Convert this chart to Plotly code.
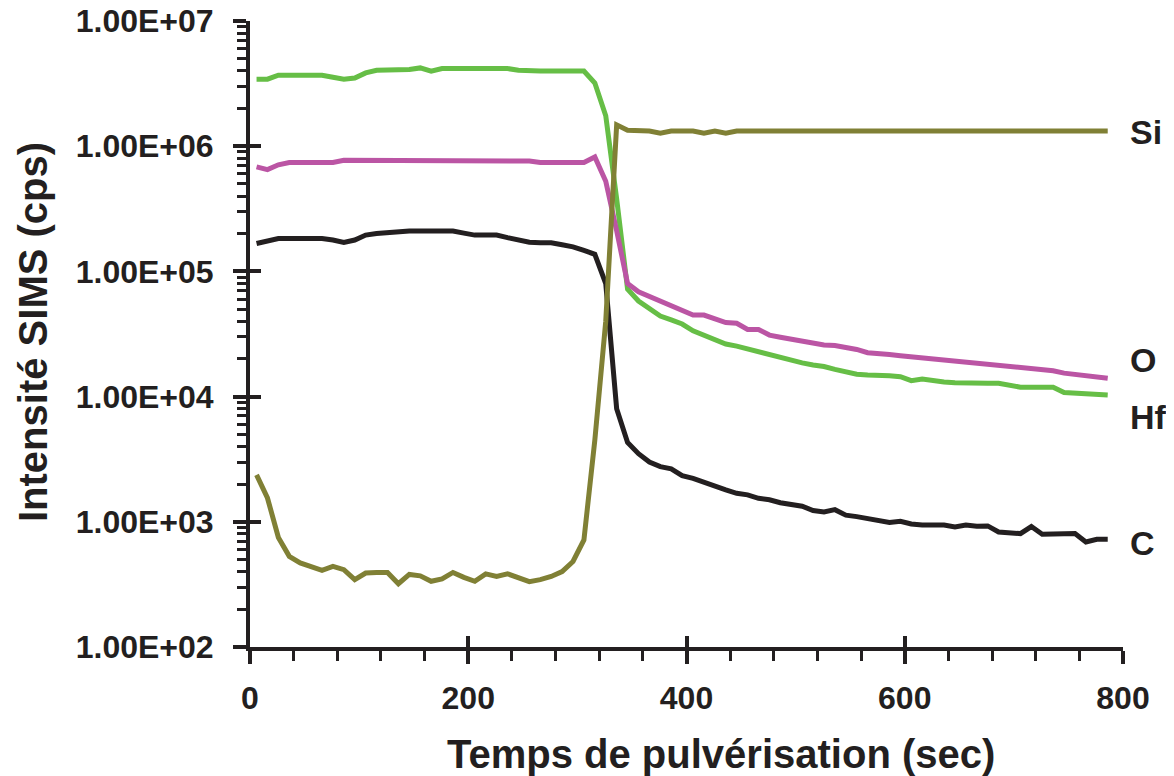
import plotly.graph_objects as go

time_s = [6, 16, 26, 36, 46, 56, 66, 76, 86, 96, 106, 116, 126, 136, 146, 156, 166, 176, 186, 196,
          206, 216, 226, 236, 246, 256, 266, 276, 286, 296, 306, 316, 326, 336, 346, 356, 366, 376, 386, 396,
          406, 416, 426, 436, 446, 456, 466, 476, 486, 496, 506, 516, 526, 536, 546, 556, 566, 576, 586, 596,
          606, 616, 626, 636, 646, 656, 666, 676, 686, 696, 706, 716, 726, 736, 746, 756, 766, 776, 786]

si = [2370, 1550, 750, 530, 470, 435, 410, 440, 415, 345,
      390, 394, 394, 320, 380, 370, 335, 350, 394, 360,
      335, 384, 366, 384, 355, 333, 345, 366, 400, 482,
      716, 4500, 40000, 1480000, 1340000, 1320000, 1320000, 1270000, 1320000, 1320000,
      1320000, 1270000, 1320000, 1270000, 1320000, 1320000, 1320000, 1320000, 1320000, 1320000,
      1320000, 1320000, 1320000, 1320000, 1320000, 1320000, 1320000, 1320000, 1320000, 1320000,
      1320000, 1320000, 1320000, 1320000, 1320000, 1320000, 1320000, 1320000, 1320000, 1320000,
      1320000, 1320000, 1320000, 1320000, 1320000, 1320000, 1320000, 1320000, 1320000]

hf = [3430000, 3430000, 3690000, 3690000, 3690000, 3690000, 3690000, 3550000, 3430000, 3500000,
      3850000, 4040000, 4040000, 4040000, 4100000, 4220000, 3970000, 4170000, 4170000, 4170000,
      4170000, 4170000, 4170000, 4170000, 4050000, 3990000, 3990000, 3990000, 3990000, 3990000,
      3990000, 3200000, 1750000, 380000, 72000, 58000, 50000, 44000, 41000, 38000,
      33500, 31000, 28500, 26300, 25300, 24000, 22600, 21800, 20500, 19300,
      18600, 17900, 17400, 16500, 15600, 15100, 14900, 14900, 14700, 14400,
      13400, 13800, 13300, 13100, 12900, 12800, 12800, 12800, 12800, 12400,
      11900, 11900, 11900, 11900, 10800, 10700, 10700, 10500, 10300]

o = [684000, 650000, 710000, 741000, 741000, 741000, 741000, 741000, 773000, 773000,
     773000, 773000, 773000, 773000, 773000, 773000, 773000, 773000, 773000, 773000,
     773000, 773000, 773000, 773000, 773000, 760000, 741000, 741000, 741000, 741000,
     741000, 820000, 525000, 211000, 80000, 68700, 63000, 58000, 52000, 48000,
     44800, 44800, 41500, 39000, 38500, 34400, 34400, 31000, 29800, 28800,
     27800, 26600, 25800, 25600, 24800, 23800, 22400, 22300, 21700, 21200,
     20800, 20500, 19800, 19400, 19400, 18900, 18300, 18000, 17900, 17500,
     17100, 16800, 16300, 16100, 15400, 15100, 14800, 14600, 14000]

c = [167000, 175000, 183000, 183000, 183000, 183000, 183000, 178000, 170000, 178000,
     195000, 201000, 205000, 210000, 210000, 210000, 210000, 210000, 210000, 202000,
     195000, 195000, 195000, 186000, 179000, 171000, 169000, 169000, 163000, 157000,
     147000, 137000, 80000, 8000, 4300, 3500, 3000, 2760, 2650, 2340,
     2220, 2060, 1950, 1800, 1690, 1640, 1540, 1500, 1420, 1360,
     1330, 1230, 1200, 1250, 1130, 1100, 1060, 1010, 987, 1010,
     960, 944, 944, 944, 910, 944, 920, 927, 830, 808,
     805, 916, 795, 800, 803, 805, 690, 726, 726]

series = [("Hf", hf, "#66BE46"), ("O", o, "#BB55A4"), ("C", c, "#231F20"), ("Si", si, "#808035")]
label_pos = {"Si": 6.112, "O": 4.292, "Hf": 3.837, "C": 2.832}

y_tickvals = [1e2, 1e3, 1e4, 1e5, 1e6, 1e7]
y_ticktext = ["1.00E+02", "1.00E+03", "1.00E+04", "1.00E+05", "1.00E+06", "1.00E+07"]
x_tickvals = [0, 200, 400, 600, 800]

INK = "#231F20"
FONT = "Liberation Sans"

# page body has an 8px margin, so the figure is sized/offset accordingly
W, H = 1166, 768
ML, MT, MR, MB = 242, 13, 51, 129
PW = W - ML - MR
PH = H - MT - MB

fig = go.Figure()
for name, vals, col in series:
    fig.add_trace(go.Scatter(x=time_s, y=vals, mode="lines", name=name,
                             line=dict(color=col, width=5), showlegend=False))

# dummy trace for overlay axes (inside halves of the crossing major ticks)
fig.add_trace(go.Scatter(x=[None], y=[None], xaxis="x2", yaxis="y2", showlegend=False, hoverinfo="skip"))

for name, vals, col in series:
    fig.add_annotation(x=1 + 5 / PW, y=label_pos[name], xref="paper", yref="y", text=name, showarrow=False,
                       xanchor="left", yanchor="middle",
                       font=dict(family=FONT, size=34, color=INK, weight="bold"))

fig.add_annotation(x=(713 - ML) / PW, y=(MT + PH - 746) / PH, xref="paper", yref="paper",
                   text="Temps de pulvérisation (sec)", showarrow=False, xanchor="center", yanchor="middle",
                   font=dict(family=FONT, size=40, color=INK, weight="bold"))
fig.add_annotation(x=(25 - ML) / PW, y=(MT + PH - 324) / PH, xref="paper", yref="paper",
                   text="Intensité SIMS (cps)", showarrow=False, textangle=-90,
                   xanchor="center", yanchor="middle",
                   font=dict(family=FONT, size=40, color=INK, weight="bold"))

fig.update_layout(
    template="none",
    width=W, height=H,
    margin=dict(l=ML, r=MR, t=MT, b=MB, autoexpand=False),
    paper_bgcolor="white", plot_bgcolor="white",
    font=dict(family=FONT, color=INK),
    xaxis=dict(range=[0, 800], tickvals=x_tickvals, ticks="outside", ticklen=13, tickwidth=4,
               tickcolor=INK, showline=True, linewidth=4, linecolor=INK, showgrid=False, zeroline=False,
               automargin=False, ticklabeloverflow="allow",
               tickfont=dict(family=FONT, size=32, color=INK, weight="bold"), ticklabelstandoff=7,
               minor=dict(ticks="outside", dtick=40, ticklen=10, tickwidth=3, tickcolor=INK, showgrid=False)),
    yaxis=dict(type="log", range=[2, 7], tickvals=y_tickvals, ticktext=y_ticktext, ticks="outside",
               ticklen=13, tickwidth=4, tickcolor=INK, showline=True, linewidth=4, linecolor=INK,
               showgrid=False, zeroline=False, automargin=False, ticklabeloverflow="allow",
               tickfont=dict(family=FONT, size=32, color=INK, weight="bold"), ticklabelstandoff=13,
               minor=dict(ticks="outside", dtick="D1", ticklen=9, tickwidth=3, tickcolor=INK, showgrid=False)),
    xaxis2=dict(overlaying="x", anchor="y2", range=[0, 800], tickvals=x_tickvals, ticks="inside",
                ticklen=11, tickwidth=4, tickcolor=INK, showticklabels=False, showline=False,
                showgrid=False, zeroline=False, automargin=False),
    yaxis2=dict(overlaying="y", anchor="x2", type="log", range=[2, 7], tickvals=y_tickvals,
                ticks="inside", ticklen=11, tickwidth=4, tickcolor=INK, showticklabels=False,
                showline=False, showgrid=False, zeroline=False, automargin=False),
)

fig.write_html("out.html")
